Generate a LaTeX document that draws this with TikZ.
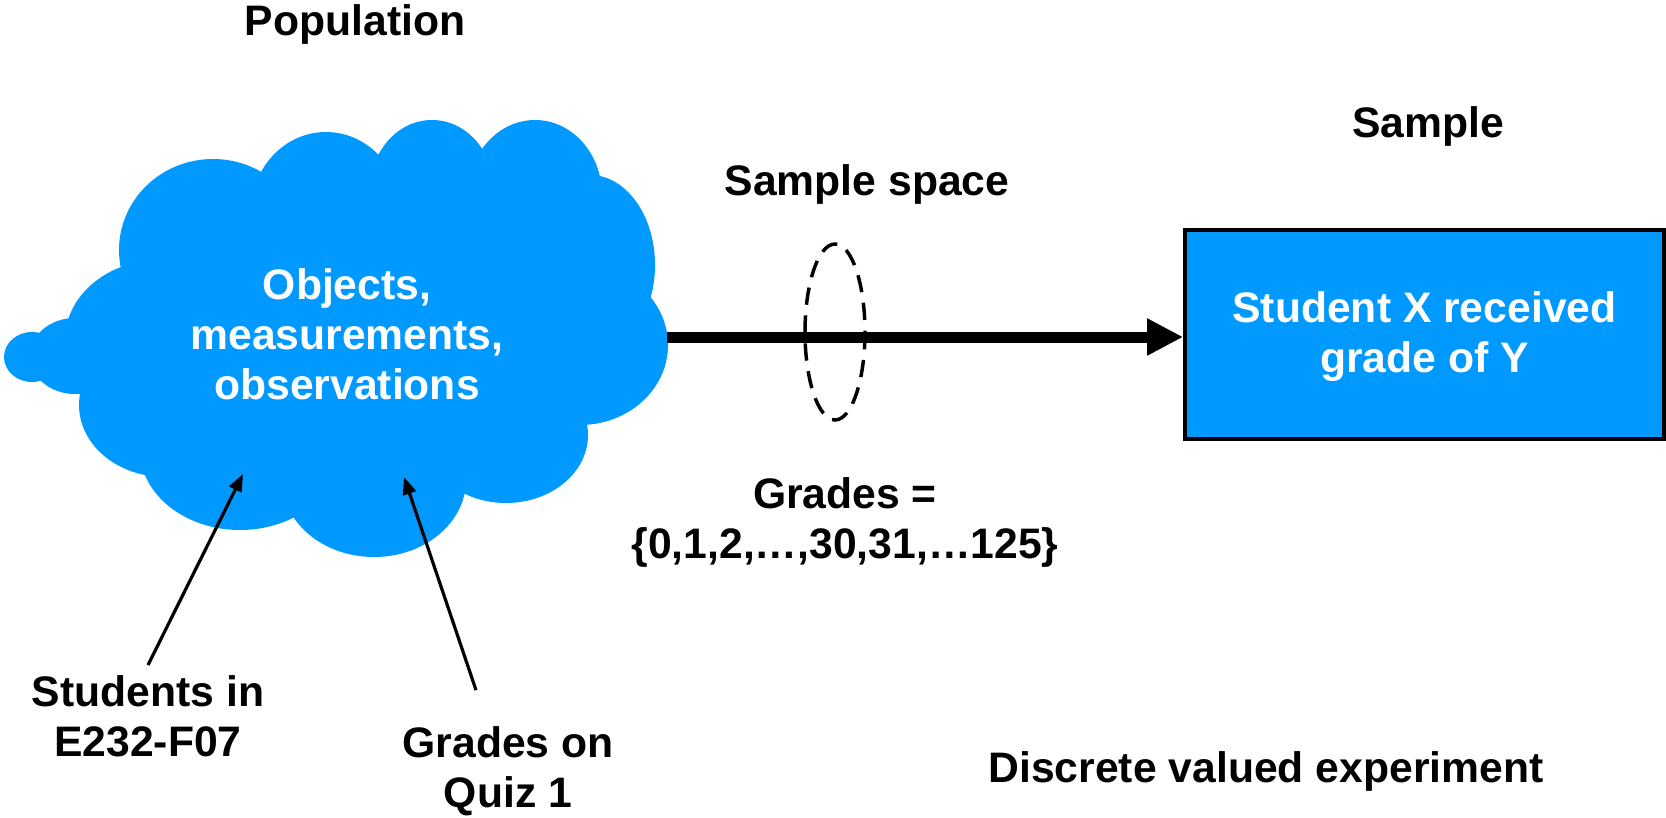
\documentclass[tikz,border=0pt]{standalone}
\usepackage{fontspec}
\setmainfont{Liberation Sans}
\usetikzlibrary{positioning, arrows.meta}
\definecolor{popblue}{RGB}{0,153,255}

\begin{document}
\begin{tikzpicture}[x=0.75pt, y=-0.75pt,
        lbl/.style = {font=\fontsize{32}{37.5}\selectfont\bfseries, align=center, inner sep=0pt},%
        inlbl/.style = {lbl, text=white},%
        SB/.style = {draw, black, line width=3pt, fill=popblue, minimum width=359pt, minimum height=157pt, inner sep=0pt},%
        thinarrow/.style = {-{Triangle[length=13pt, width=10pt]}, line width=2.4pt},%
        fatarrow/.style = {-{Triangle[length=27pt, width=26pt]}, line width=8.25pt},%
        ring/.style = {line width=2.6pt, dash pattern=on 13pt off 8pt}%
    ]%
    \useasboundingbox (0,0) rectangle (1666,817);
    % the population cloud
    \fill[popblue] (360,340) ellipse [x radius=230, y radius=160]
        (32,357) ellipse [x radius=28, y radius=25]
        (75,356) ellipse [x radius=45, y radius=38]
        (160,340) ellipse [x radius=95, y radius=80]
        (165,405) ellipse [x radius=86, y radius=72]
        (213,250) ellipse [x radius=94, y radius=91]
        (326,212) ellipse [x radius=75, y radius=80]
        (432,190) ellipse [x radius=62, y radius=70]
        (535,195) ellipse [x radius=67, y radius=75]
        (590,265) ellipse [x radius=65, y radius=90]
        (580,345) ellipse [x radius=88, y radius=80]
        (506,435) ellipse [x radius=82, y radius=68]
        (374,480) ellipse [x radius=92, y radius=77]
        (240,450) ellipse [x radius=100, y radius=80];
    \node[inlbl] (obj) at (347,334) {Objects,\\measurements,\\observations};
    \coordinate (cloudE) at (667,337);
    \coordinate (tipA) at (243,474);
    \coordinate (tipB) at (404,477);

    \node[lbl] (pop) at (355,24) {Population};
    \node[lbl] (stud) at (148,716.7) {Students in\\E232-F07};
    \node[lbl] (quiz) at (508,771) {Grades on\\Quiz 1};
    \node[lbl] (space) at (867,184) {Sample space};
    \node[lbl] (grades) at (845,522) {Grades =\\\{0,1,2,…,30,31,…125\}};
    \node[lbl] (samp) at (1428,126) {Sample};
    \node[SB, inlbl, text depth=4pt] (box) at (1424.5,334.5) {Student X received\\grade of Y};
    \node[lbl] (disc) at (1266,771) {Discrete valued experiment};

    \draw[fatarrow] (cloudE) -- (cloudE -| box.west);
    \draw[ring] (835,332) ellipse [x radius=30, y radius=88];
    \draw[thinarrow] ([yshift=8pt]stud.north) -- (tipA);
    \draw[thinarrow] ([xshift=-24pt, yshift=27pt]quiz.north) -- (tipB);
\end{tikzpicture}
\end{document}
